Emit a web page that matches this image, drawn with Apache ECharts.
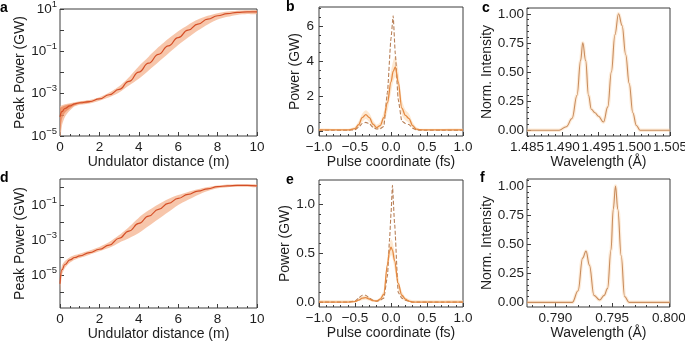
<!DOCTYPE html>
<html>
<head>
<meta charset="utf-8">
<script src="https://cdn.jsdelivr.net/npm/echarts@6/dist/echarts.min.js"></script>
<style>
  html, body { margin: 0; padding: 0; background: #ffffff; }
  #chart { width: 685px; height: 342px; }
</style>
</head>
<body>
<div id="chart"></div>
<script>
// ---------- Gain curves: log10 of peak power (GW) along the undulator ----------
const distA = [0, 0.1, 0.25, 0.5, 0.75, 1, 1.5, 2, 2.5, 3, 3.5, 4, 4.5, 5, 5.5, 6, 6.5, 7, 7.5, 8, 8.5, 9, 9.5, 10];
const logPowerA = [-4.1, -3.85, -3.7, -3.58, -3.48, -3.43, -3.38, -3.25, -3.05, -2.8, -2.42, -1.98, -1.56, -1.14, -0.74, -0.35, 0.0, 0.29, 0.52, 0.68, 0.78, 0.84, 0.86, 0.86];
const logLowA = [-5.3, -4.5, -4.1, -3.8, -3.6, -3.52, -3.46, -3.33, -3.17, -2.95, -2.62, -2.3, -1.9, -1.5, -1.1, -0.7, -0.35, -0.02, 0.27, 0.5, 0.63, 0.72, 0.76, 0.76];
const logHighA = [-3.6, -3.55, -3.5, -3.45, -3.4, -3.36, -3.3, -3.17, -2.95, -2.65, -2.22, -1.7, -1.25, -0.8, -0.4, -0.05, 0.25, 0.5, 0.68, 0.8, 0.88, 0.92, 0.94, 0.94];
// denser core of the shot distribution in the first metre
const distCoreA = [0, 0.1, 0.25, 0.5, 0.75, 1, 1.5];
const logCoreLowA = [-4.8, -4.2, -3.9, -3.7, -3.55, -3.48, -3.42];
const logCoreHighA = [-3.7, -3.62, -3.56, -3.5, -3.44, -3.39, -3.34];

const distD = [0, 0.1, 0.25, 0.5, 0.75, 1, 1.5, 2, 2.5, 3, 3.5, 4, 4.5, 5, 5.5, 6, 6.5, 7, 7.5, 8, 8.5, 9, 9.5, 10];
const logPowerD = [-5.5, -4.7, -4.4, -4.14, -4.0, -3.91, -3.72, -3.53, -3.29, -2.9, -2.49, -2.05, -1.63, -1.25, -0.9, -0.62, -0.39, -0.2, -0.07, 0.05, 0.1, 0.12, 0.12, 0.1];
const logLowD = [-6.0, -5.0, -4.6, -4.3, -4.13, -4.03, -3.84, -3.65, -3.45, -3.15, -2.9, -2.6, -2.2, -1.8, -1.4, -1.0, -0.7, -0.42, -0.2, -0.04, 0.02, 0.05, 0.05, 0.03];
const logHighD = [-5.1, -4.45, -4.2, -3.98, -3.86, -3.78, -3.6, -3.4, -3.12, -2.72, -2.25, -1.72, -1.3, -0.95, -0.65, -0.43, -0.25, -0.1, 0.03, 0.12, 0.17, 0.19, 0.19, 0.17];

// ---------- Temporal pulse profiles (GW) ----------
const timeB = [-1.0, -0.8, -0.6, -0.5, -0.45, -0.4, -0.35, -0.3, -0.25, -0.2, -0.15, -0.1, -0.05, 0.0, 0.03, 0.06, 0.1, 0.15, 0.2, 0.25, 0.3, 0.35, 0.4, 0.5, 0.7, 1.0];
const powerMeanB = [0.05, 0.05, 0.05, 0.12, 0.35, 0.75, 0.93, 0.75, 0.38, 0.18, 0.3, 0.75, 1.6, 2.8, 3.4, 3.67, 2.8, 1.3, 0.88, 0.7, 0.3, 0.1, 0.06, 0.05, 0.05, 0.05];
const powerShotB = [0.03, 0.03, 0.03, 0.06, 0.2, 0.42, 0.48, 0.4, 0.2, 0.1, 0.12, 0.25, 2.2, 5.3, 6.6, 4.4, 1.8, 0.55, 0.42, 0.36, 0.15, 0.05, 0.03, 0.03, 0.03, 0.03];
const powerLowB = [0, 0, 0, 0.04, 0.2, 0.5, 0.68, 0.5, 0.2, 0.08, 0.15, 0.45, 1.1, 2.2, 2.8, 3.1, 2.2, 0.9, 0.6, 0.45, 0.15, 0.03, 0, 0, 0, 0];
const powerHighB = [0.12, 0.12, 0.12, 0.25, 0.55, 0.98, 1.18, 1.0, 0.6, 0.35, 0.5, 1.1, 2.2, 3.4, 4.0, 4.3, 3.5, 1.8, 1.2, 0.98, 0.5, 0.22, 0.12, 0.12, 0.12, 0.12];

const timeE = [-1.0, -0.8, -0.6, -0.5, -0.45, -0.4, -0.35, -0.3, -0.25, -0.2, -0.15, -0.1, -0.05, -0.02, 0.0, 0.02, 0.05, 0.1, 0.15, 0.2, 0.25, 0.3, 0.4, 0.5, 0.7, 1.0];
const powerMeanE = [0.0, 0.0, 0.0, 0.005, 0.02, 0.04, 0.045, 0.03, 0.015, 0.01, 0.03, 0.08, 0.38, 0.52, 0.56, 0.53, 0.42, 0.19, 0.07, 0.03, 0.01, 0.0, 0.0, 0.0, 0.0, 0.0];
const powerShotE = [0.0, 0.0, 0.0, 0.01, 0.04, 0.07, 0.07, 0.04, 0.02, 0.01, 0.02, 0.04, 0.26, 0.64, 0.9, 1.19, 0.8, 0.1, 0.04, 0.02, 0.01, 0.0, 0.0, 0.0, 0.0, 0.0];
const powerLowE = [0, 0, 0, 0, 0.01, 0.02, 0.025, 0.015, 0.005, 0, 0.01, 0.05, 0.3, 0.44, 0.48, 0.45, 0.34, 0.13, 0.04, 0.01, 0, 0, 0, 0, 0, 0];
const powerHighE = [0.02, 0.02, 0.02, 0.02, 0.035, 0.06, 0.07, 0.05, 0.03, 0.025, 0.05, 0.13, 0.46, 0.6, 0.64, 0.62, 0.5, 0.26, 0.11, 0.05, 0.03, 0.02, 0.02, 0.02, 0.02, 0.02];

// ---------- Normalised spectra ----------
const waveC = [1.485, 1.4895, 1.4905, 1.4913, 1.492, 1.4925, 1.4928, 1.4932, 1.4936, 1.494, 1.4945, 1.495, 1.4957, 1.4963, 1.4968, 1.4973, 1.4978, 1.4983, 1.4988, 1.4993, 1.4998, 1.5003, 1.5008, 1.505];
const intensityC = [0, 0, 0.03, 0.1, 0.3, 0.6, 0.75, 0.6, 0.3, 0.18, 0.15, 0.12, 0.07, 0.2, 0.5, 0.82, 1.0, 0.9, 0.65, 0.4, 0.15, 0.04, 0, 0];

const waveF = [0.7875, 0.7915, 0.792, 0.7924, 0.7927, 0.793, 0.7934, 0.7939, 0.7943, 0.7946, 0.7949, 0.7951, 0.7953, 0.7955, 0.7958, 0.7961, 0.7965, 0.8001];
const intensityF = [0, 0, 0.1, 0.38, 0.44, 0.32, 0.06, 0.02, 0.06, 0.12, 0.45, 0.8, 1.0, 0.8, 0.4, 0.05, 0, 0];

// ---------- Tick values ----------
const distTicks = [0, 2, 4, 6, 8, 10];
const logTicksA = [-5, -4, -3, -2, -1, 0, 1];
const logLabelsA = [-5, -3, -1, 1];
const logTicksD = [-6, -5, -4, -3, -2, -1, 0];
const logLabelsD = [-5, -3, -1];
const timeTicks = [-1.0, -0.5, 0.0, 0.5, 1.0];
const powerTicksB = [0, 2, 4, 6];
const powerTicksE = [0.0, 0.5, 1.0];
const intensityTicks = [0.0, 0.25, 0.5, 0.75, 1.0];
const waveTicksC = [1.485, 1.490, 1.495, 1.500, 1.505];
const waveTicksF = [0.790, 0.795, 0.800];

const FONT = 'Liberation Sans';
const AXIS_COLOR = '#3c3c3c';
const TEXT_COLOR = '#1e1e1e';

// Minor tick positions between (and beyond) major ticks, within [min, max]
function minorValues(majors, step, min, max) {
  const out = [];
  const start = Math.ceil((min - 1e-9) / step);
  const end = Math.floor((max + 1e-9) / step);
  for (let i = start; i <= end; i++) {
    const v = +(i * step).toFixed(6);
    if (!majors.some(m => Math.abs(m - v) < step * 1e-3)) out.push(v);
  }
  return out;
}

const minus = s => s.replace('-', '\u2212');
const fmtFixed = d => v => minus(Number(v).toFixed(d));
const fmtPow = v => '{b|10}{s|' + minus(String(Math.round(v))) + '}';

const grids = [];
const xAxes = [];
const yAxes = [];
const series = [];

function addPanel(cfg) {
  const g = grids.length;
  grids.push({
    left: cfg.box[0], top: cfg.box[1], width: cfg.box[2], height: cfg.box[3],
    show: true, borderColor: AXIS_COLOR, borderWidth: 1, backgroundColor: 'transparent',
    containLabel: false, outerBoundsMode: 'none'
  });
  const xi = xAxes.length;
  const yi = yAxes.length;
  const labelStyle = { fontFamily: FONT, fontSize: 13.5, color: TEXT_COLOR };
  xAxes.push({
    type: 'value', gridIndex: g, position: 'bottom', min: cfg.x.min, max: cfg.x.max,
    axisLine: { show: false, onZero: false },
    axisTick: { show: true, inside: true, length: 4, customValues: cfg.x.ticks, lineStyle: { color: AXIS_COLOR } },
    axisLabel: Object.assign({ margin: 4, customValues: cfg.x.ticks, formatter: cfg.x.fmt }, labelStyle),
    splitLine: { show: false },
    name: cfg.x.name, nameLocation: 'middle', nameGap: cfg.x.gap,
    nameTextStyle: { fontFamily: FONT, fontSize: 14, color: TEXT_COLOR }
  });
  yAxes.push({
    type: 'value', gridIndex: g, position: 'left', min: cfg.y.min, max: cfg.y.max,
    axisLine: { show: false, onZero: false },
    axisTick: { show: true, inside: true, length: 4, customValues: cfg.y.ticks, lineStyle: { color: AXIS_COLOR } },
    axisLabel: Object.assign({ margin: cfg.y.margin, customValues: cfg.y.labels || cfg.y.ticks, formatter: cfg.y.fmt,
      rich: cfg.y.rich }, labelStyle),
    splitLine: { show: false },
    name: cfg.y.name, nameLocation: 'middle', nameGap: cfg.y.gap, nameRotate: 90,
    nameTextStyle: { fontFamily: FONT, fontSize: 14, color: TEXT_COLOR }
  });
  // overlay axes carrying the minor ticks
  if (cfg.x.minor) {
    xAxes.push({
      type: 'value', gridIndex: g, position: 'bottom', offset: 0, min: cfg.x.min, max: cfg.x.max,
      axisLine: { show: false, onZero: false }, axisLabel: { show: false }, splitLine: { show: false },
      axisTick: { show: true, inside: true, length: 2, customValues: minorValues(cfg.x.ticks, cfg.x.minor, cfg.x.min, cfg.x.max), lineStyle: { color: AXIS_COLOR } }
    });
  }
  if (cfg.y.minor) {
    yAxes.push({
      type: 'value', gridIndex: g, position: 'left', offset: 0, min: cfg.y.min, max: cfg.y.max,
      axisLine: { show: false, onZero: false }, axisLabel: { show: false }, splitLine: { show: false },
      axisTick: { show: true, inside: true, length: 2, customValues: minorValues(cfg.y.ticks, cfg.y.minor, cfg.y.min, cfg.y.max), lineStyle: { color: AXIS_COLOR } }
    });
  }
  return { xi, yi };
}

function zip(xs, ys) { return xs.map((x, i) => [x, ys[i]]); }

// Shaded envelope between a lower and an upper curve, drawn as one smoothed polygon
function addBand(ax, xs, lo, hi, color, opacity) {
  const rows = xs.map((x, i) => [x, lo[i], hi[i]]);
  series.push({
    type: 'custom', xAxisIndex: ax.xi, yAxisIndex: ax.yi, data: rows, clip: true, silent: true, z: 1,
    encode: { x: 0, y: [1, 2] },
    renderItem: function (params, api) {
      if (params.dataIndex !== 0) return null;
      const upper = rows.map(r => api.coord([r[0], r[2]]));
      const lower = rows.map(r => api.coord([r[0], r[1]])).reverse();
      return {
        type: 'polygon',
        shape: { points: upper.concat(lower), smooth: 0.25 },
        style: { fill: color, opacity: opacity, stroke: null }
      };
    }
  });
}

function addLine(ax, xs, ys, color, width, dashed, smooth) {
  series.push({
    type: 'line', xAxisIndex: ax.xi, yAxisIndex: ax.yi, data: zip(xs, ys),
    showSymbol: false, smooth: smooth, smoothMonotone: 'x', z: 3,
    lineStyle: { color: color, width: width, type: dashed ? [4, 2] : 'solid' }
  });
}

const powRich = {
  b: { fontFamily: FONT, fontSize: 13.5, color: TEXT_COLOR, lineHeight: 20 },
  s: { fontFamily: FONT, fontSize: 9.5, color: TEXT_COLOR, lineHeight: 8, verticalAlign: 'top' }
};

// a: gain curve, first case
const pa = addPanel({
  box: [60, 9, 197, 127],
  x: { min: 0, max: 10, ticks: distTicks, minor: 0.5, fmt: fmtFixed(0), name: 'Undulator distance (m)', gap: 19 },
  y: { min: -5, max: 1, ticks: logTicksA, labels: logLabelsA, fmt: fmtPow, rich: powRich, margin: 3, name: 'Peak Power (GW)', gap: 30 }
});
addBand(pa, distA, logLowA, logHighA, '#f4ae88', 0.7);
addBand(pa, distCoreA, logCoreLowA, logCoreHighA, '#e8703a', 0.55);
addLine(pa, distA, logPowerA, '#d44e26', 1.2, false, 0.5);

// b: temporal profile, first case
const pb = addPanel({
  box: [319, 7, 144, 129],
  x: { min: -1, max: 1, ticks: timeTicks, minor: 0.1, fmt: fmtFixed(1), name: 'Pulse coordinate (fs)', gap: 19 },
  y: { min: -0.3, max: 7.1, ticks: powerTicksB, minor: 0.5, fmt: fmtFixed(0), margin: 5, name: 'Power (GW)', gap: 14 }
});
addBand(pb, timeB, powerLowB, powerHighB, '#fbd9b0', 0.6);
addLine(pb, timeB, powerShotB, '#b98058', 1.1, true, 0.15);
addLine(pb, timeB, powerMeanB, '#e58a43', 1.3, false, 0.35);

// c: spectrum, first case
const pc = addPanel({
  box: [527, 8, 143, 128],
  x: { min: 1.485, max: 1.505, ticks: waveTicksC, minor: 0.001, fmt: fmtFixed(3), name: 'Wavelength (\u00c5)', gap: 19 },
  y: { min: -0.05, max: 1.05, ticks: intensityTicks, minor: 0.05, fmt: fmtFixed(2), margin: 3, name: 'Norm. Intensity', gap: 32 }
});
addLine(pc, waveC, intensityC, 'rgba(250,200,150,0.35)', 3.5, false, 0.4);
addLine(pc, waveC, intensityC, '#c98d5e', 1.1, false, 0.4);

// d: gain curve, second case
const pd = addPanel({
  box: [60, 179, 197, 129],
  x: { min: 0, max: 10, ticks: distTicks, minor: 0.5, fmt: fmtFixed(0), name: 'Undulator distance (m)', gap: 19 },
  y: { min: -6.89, max: 0.49, ticks: logTicksD, labels: logLabelsD, fmt: fmtPow, rich: powRich, margin: 3, name: 'Peak Power (GW)', gap: 30 }
});
addBand(pd, distD, logLowD, logHighD, '#f4ae88', 0.7);
addLine(pd, distD, logPowerD, '#d44e26', 1.2, false, 0.5);

// e: temporal profile, second case
const pe = addPanel({
  box: [319, 180, 144, 127],
  x: { min: -1, max: 1, ticks: timeTicks, minor: 0.1, fmt: fmtFixed(1), name: 'Pulse coordinate (fs)', gap: 19 },
  y: { min: -0.05, max: 1.245, ticks: powerTicksE, minor: 0.1, fmt: fmtFixed(1), margin: 4, name: 'Power (GW)', gap: 24 }
});
addBand(pe, timeE, powerLowE, powerHighE, '#fbd9b0', 0.6);
addLine(pe, timeE, powerShotE, '#b98058', 1.1, true, 0.15);
addLine(pe, timeE, powerMeanE, '#e58a43', 1.3, false, 0.35);

// f: spectrum, second case
const pf = addPanel({
  box: [527, 179, 143, 128],
  x: { min: 0.7875, max: 0.8001, ticks: waveTicksF, minor: 0.001, fmt: fmtFixed(3), name: 'Wavelength (\u00c5)', gap: 19 },
  y: { min: -0.04, max: 1.06, ticks: intensityTicks, minor: 0.05, fmt: fmtFixed(2), margin: 3, name: 'Norm. Intensity', gap: 33 }
});
addLine(pf, waveF, intensityF, 'rgba(250,200,150,0.35)', 3.5, false, 0.4);
addLine(pf, waveF, intensityF, '#c98d5e', 1.1, false, 0.4);

// panel letters
const letterStyle = { fontFamily: FONT, fontSize: 14, fontWeight: 'bold', fill: '#000' };
const letters = [['a', 0, 1], ['b', 286, 0], ['c', 482, 1], ['d', 0, 171], ['e', 286, 173], ['f', 480, 171]];

const chart = echarts.init(document.getElementById('chart'), null, { renderer: 'canvas' });
chart.setOption({
  animation: false,
  backgroundColor: '#ffffff',
  grid: grids,
  xAxis: xAxes,
  yAxis: yAxes,
  series: series,
  graphic: letters.map(([t, x, y]) => ({ type: 'text', left: x, top: y, style: Object.assign({ text: t }, letterStyle) }))
});
</script>
</body>
</html>
